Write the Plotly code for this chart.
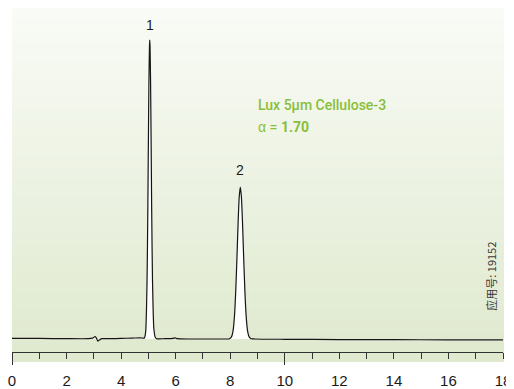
import plotly.graph_objects as go

# ---- data ----
time_min = [0.0, 1.0, 2.0, 2.8, 2.95, 3.05, 3.1, 3.15, 3.2, 3.3, 3.6, 4.0, 4.4, 4.7, 4.8,
            4.85, 4.90, 4.95, 4.98, 5.00, 5.02, 5.04, 5.05, 5.06, 5.08, 5.10, 5.12, 5.15, 5.20, 5.25, 5.30,
            5.6, 5.9, 5.98, 6.05, 6.5, 7.0, 7.6, 7.9,
            7.97, 8.04, 8.10, 8.15, 8.20, 8.25, 8.29, 8.33, 8.37, 8.41, 8.45, 8.49, 8.54, 8.59, 8.64, 8.70, 8.77,
            8.9, 10.0, 12.0, 14.0, 16.0, 17.0, 18.0]
signal = [0.2, 0.2, 0.1, 0.1, 0.3, 0.8, 0.2, -0.7, -0.3, 0.1, 0.1, 0.2, 0.3, 0.4, 0.3,
          0.3, 2.4, 19, 44, 66, 86, 98, 100, 98, 86, 66, 44, 20, 3.5, 0.6, 0.1,
          0.1, 0.2, 0.4, 0.1, 0.0, 0.0, 0.0, 0.0,
          0.1, 0.6, 2.5, 6.9, 15.5, 28, 39, 47.5, 50.8, 47.5, 39, 28, 15.5, 6.9, 2.5, 0.6, 0.1,
          0.0, -0.1, -0.2, -0.2, -0.3, -0.3, -0.3]

peak_labels = ["1", "2"]
peak_times = [5.05, 8.37]
peak_label_y = [105.0, 56.5]

x_ticks = list(range(0, 19))
x_ticktext = [str(v) if v % 2 == 0 else "" for v in x_ticks]
long_ticks = [0, 10]

title_line1 = "Lux 5µm Cellulose-3"
title_line2 = "<span style='font-family:Liberation Sans'>α</span> = <b>1.70</b>"
app_no = "应用号: 19152"

# ---- figure ----
fig = go.Figure()

fig.add_trace(go.Scatter(
    x=time_min, y=signal, mode="lines",
    line=dict(color="#151515", width=1.2, shape="spline", smoothing=0.6),
    fill="tozeroy", fillcolor="white",
    hoverinfo="skip", showlegend=False,
))
# invisible trace to activate xaxis2 (long ticks)
fig.add_trace(go.Scatter(x=[0, 18], y=[0, 0], xaxis="x2", mode="lines",
                         line=dict(width=0), hoverinfo="skip", showlegend=False))

# background vertical gradient (top near-white to pale green), extends below axis line
top = (249, 251, 246)
bot = (223, 233, 206)
n = 60
y0p, y1p = -10 / 344, 1.0
shapes = []
for i in range(n):
    f = i / (n - 1)
    c = tuple(round(top[k] + (bot[k] - top[k]) * f) for k in range(3))
    ya = y1p - (y1p - y0p) * i / n
    yb = y1p - (y1p - y0p) * (i + 1) / n - 0.002
    shapes.append(dict(type="rect", xref="paper", yref="paper", x0=0, x1=1.002,
                       y0=max(yb, y0p), y1=ya, line=dict(width=0),
                       fillcolor="rgb(%d,%d,%d)" % c, layer="below"))

annotations = []
for lab, t, yy in zip(peak_labels, peak_times, peak_label_y):
    annotations.append(dict(x=t, y=yy, text=lab, showarrow=False, xanchor="center", yanchor="middle",
                            font=dict(family="Liberation Sans, Arial", size=14, color="#1a1a1a")))
annotations.append(dict(x=8.93, y=78.3, text=title_line1, showarrow=False, xanchor="left", yanchor="middle",
                        font=dict(family="Roboto, Liberation Sans", size=14, weight=500, color="#88bf3a")))
annotations.append(dict(x=8.93, y=70.8, text=title_line2, showarrow=False, xanchor="left", yanchor="middle",
                        font=dict(family="Roboto, Liberation Sans", size=14, weight=500, color="#88bf3a")))
annotations.append(dict(x=17.58, y=21, text=app_no, showarrow=False, textangle=-90,
                        xanchor="center", yanchor="middle",
                        font=dict(family="Noto Sans CJK SC, Liberation Sans", size=11, color="#3a3a3a")))

# page body adds an 8px offset, so the figure is sized to fit the window from (8, 8)
fig.update_layout(
    width=506, height=381,
    margin=dict(l=4, r=11, t=0, b=37, autoexpand=False),
    paper_bgcolor="white", plot_bgcolor="rgba(0,0,0,0)",
    shapes=shapes, annotations=annotations,
    xaxis=dict(range=[0, 18], tickmode="array", tickvals=x_ticks, ticktext=x_ticktext,
               ticks="outside", ticklen=6, tickwidth=1, tickcolor="#333",
               showline=True, linecolor="#333", linewidth=1, showgrid=False, zeroline=False,
               automargin=False, ticklabelstandoff=9, ticklabeloverflow="allow",
               tickfont=dict(family="Liberation Sans, Arial", size=15, color="#1a1a1a")),
    xaxis2=dict(range=[0, 18], overlaying="x", side="bottom", anchor="y", tickmode="array",
                tickvals=long_ticks, ticks="outside", ticklen=12, tickwidth=1, tickcolor="#333",
                showticklabels=False, showline=False, showgrid=False, zeroline=False,
                automargin=False),
    yaxis=dict(range=[-4.35, 110.7], visible=False, showgrid=False, zeroline=False, automargin=False),
)

fig.write_html("out.html")
